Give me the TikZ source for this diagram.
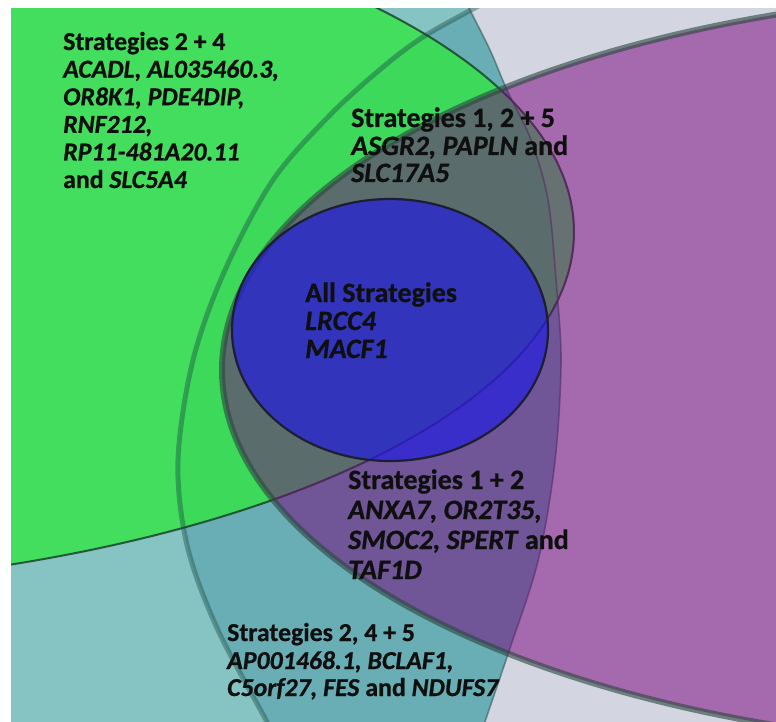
\documentclass[tikz,border=0pt]{standalone}
\usepackage{fontspec}
\setmainfont{Carlito}[BoldFeatures={FakeBold=0.8},BoldItalicFeatures={FakeBold=0.8}]
\begin{document}
\begin{tikzpicture}[x=1pt,y=1pt]
\definecolor{lavender}{RGB}{211,214,225}
\definecolor{tealpale}{RGB}{134,195,195}
\definecolor{tealdeep}{RGB}{105,174,180}
\definecolor{setgreen}{RGB}{47,232,62}
\definecolor{setpurple}{RGB}{120,0,124}
\definecolor{setblue}{RGB}{30,25,230}
\definecolor{ink}{RGB}{15,15,15}
\tikzset{
  % right-hand border of the pale teal set
  edgeL/.style={insert path={-- plot[smooth,tension=0.55] coordinates {(466,0) (470,-10) (490,-50) (507,-90) (531,-140) (548,-200) (556,-280) (561,-361) (555,-461) (538,-561) (508,-654) (485,-722) (481,-740)}}},
  % left-hand border of the deeper teal set
  edgeA/.style={insert path={-- plot[smooth,tension=0.55] coordinates {(492,1) (471,-10) (423,-37) (383,-67) (330,-115) (273,-180) (225,-270) (193,-360) (178,-460) (187,-545) (217,-628) (267,-722) (275,-740)}}},
  greenset/.style={fill=setgreen,fill opacity=0.75},
  greenrim/.style={draw={rgb,255:red,20;green,60;blue,35},draw opacity=0.8,line width=2pt},
  purpleset/.style={fill=setpurple,fill opacity=0.5},
  purplerim/.style={draw={rgb,255:red,40;green,70;blue,60},draw opacity=0.6,line width=6pt},
  tealrim/.style={draw={rgb,255:red,20;green,70;blue,60},draw opacity=0.4,line width=5pt},
  paleline/.style={draw={rgb,255:red,50;green,80;blue,85},draw opacity=0.55,line width=1.6pt},
  blueset/.style={fill=setblue,fill opacity=0.65,draw={rgb,255:red,30;green,30;blue,50},line width=2.2pt},
  lblS/.style={anchor=base west,inner sep=0pt,text=ink,font=\bfseries\fontsize{25.8}{28}\selectfont},
  lblL/.style={anchor=base west,inner sep=0pt,text=ink,font=\bfseries\fontsize{28}{30}\selectfont},
}
\useasboundingbox (0,0) rectangle (776,-722);
\fill[white] (0,0) rectangle (776,-722);

\begin{scope}
\clip (11,-9) rectangle (776,-722);
\fill[lavender] (0,0) rectangle (780,-730);

% pale teal set
\fill[tealpale] (-5,5) -- (466,5) [edgeL] -- (-5,-740) -- cycle;

% deeper teal where the second teal set overlaps
\begin{scope}
  \clip (-5,5) -- (466,5) [edgeL] -- (-5,-740) -- cycle;
  \fill[tealdeep] (492,5) [edgeA] -- (800,-740) -- (800,5) -- cycle;
\end{scope}

% green set
\path[greenset] (-321,-232) ellipse [x radius=895pt, y radius=358pt];
\path[greenrim] (-321,-232) ellipse [x radius=895pt, y radius=358pt];

% borders of the teal sets
\path[tealrim] (492,1) [edgeA];
\path[paleline] (466,0) [edgeL];

% purple set
\path[purpleset] (1072,-370) ellipse [x radius=850pt, y radius=379pt];
\path[purplerim] (1072,-370) ellipse [x radius=850pt, y radius=379pt];

% central set
\path[blueset] (390,-330) ellipse [x radius=158pt, y radius=131pt];
\end{scope}

% labels
\node[lblS] (s24t) at (63,-50) {Strategies 2 + 4};
\node[lblS] (s24a) at (63,-77.6) {\itshape ACADL, AL035460.3,};
\node[lblS] (s24b) at (63,-105.2) {\itshape OR8K1, PDE4DIP,};
\node[lblS] (s24c) at (63,-132.8) {\itshape RNF212,};
\node[lblS] (s24d) at (63,-160.4) {\itshape RP11-481A20.11};
\node[lblS] (s24e) at (63,-188) {and \textit{SLC5A4}};

\node[lblL] (s125t) at (351,-127) {Strategies 1, 2 + 5};
\node[lblL] (s125a) at (351,-155) {\textit{ASGR2, PAPLN} and};
\node[lblL] (s125b) at (351,-182) {\itshape SLC17A5};

\node[lblL] (allt) at (305,-302) {All Strategies};
\node[lblL] (alla) at (305,-330) {\itshape LRCC4};
\node[lblL] (allb) at (305,-358) {\itshape MACF1};

\node[lblL] (s12t) at (348,-489) {Strategies 1 + 2};
\node[lblL] (s12a) at (348,-519) {\itshape ANXA7, OR2T35,};
\node[lblL] (s12b) at (348,-549) {\textit{SMOC2, SPERT} and};
\node[lblL] (s12c) at (348,-579) {\itshape TAF1D};

\node[lblS] (s245t) at (227,-641) {Strategies 2, 4 + 5};
\node[lblS] (s245a) at (227,-669) {\itshape AP001468.1, BCLAF1,};
\node[lblS] (s245b) at (227,-696) {\textit{C5orf27, FES} and \textit{NDUFS7}};
\end{tikzpicture}
\end{document}
